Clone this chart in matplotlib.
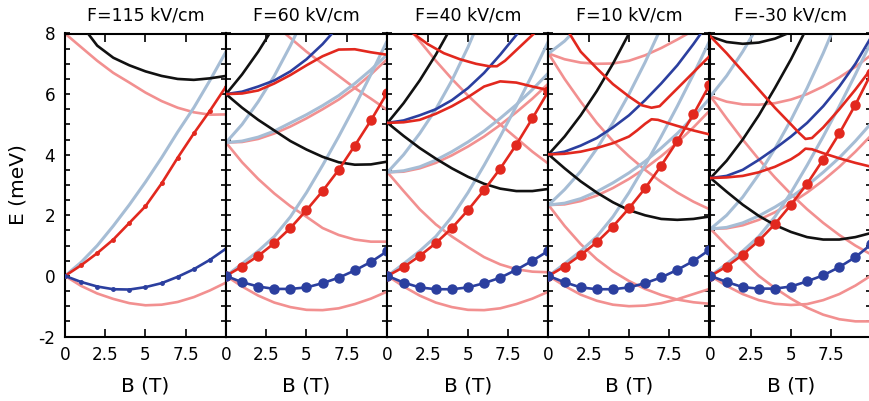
import matplotlib
matplotlib.use('Agg')
import matplotlib.pyplot as plt
from matplotlib.ticker import MultipleLocator, FixedLocator

plt.rcParams['font.family'] = ['DejaVu Sans']

titles = ['F=115 kV/cm', 'F=60 kV/cm', 'F=40 kV/cm', 'F=10 kV/cm', 'F=-30 kV/cm']
xtick_vals = [0, 2.5, 5, 7.5]
xtick_labels = ['0', '2.5', '5', '7.5']
ytick_vals = [-2, 0, 2, 4, 6, 8]
ytick_labels = ['-2', '0', '2', '4', '6', '8']

B = [0, 1, 2, 3, 4, 5, 6, 7, 8, 9, 10]
B1 = [1, 2, 3, 4, 5, 6, 7, 8, 9, 10]

# ---------- F = 115 kV/cm ----------
p1_lb0 = [0, 0.45, 1.0, 1.65, 2.35, 3.1, 3.9, 4.75, 5.55, 6.45, 7.4]
p1_red0 = [0, 0.35, 0.75, 1.2, 1.75, 2.3, 3.05, 3.9, 4.7, 5.45, 6.25]
p1_blue0 = [0, -0.2, -0.35, -0.44, -0.45, -0.37, -0.24, -0.03, 0.22, 0.53, 0.9]
p1_pk0 = [0, -0.33, -0.58, -0.76, -0.9, -0.97, -0.95, -0.86, -0.7, -0.48, -0.22]
p1_pk_top = [8.0, 7.55, 7.1, 6.7, 6.38, 6.05, 5.77, 5.55, 5.4, 5.32, 5.33]
p1_bk_top = [8.3, 7.6, 7.2, 6.95, 6.75, 6.6, 6.5, 6.47, 6.52, 6.6]

# ---------- F = 60 kV/cm ----------
p2_lb0 = [0, 0.4, 0.82, 1.3, 1.95, 2.75, 3.65, 4.6, 5.6, 6.65, 7.75]
p2_red0 = [0, 0.31, 0.66, 1.08, 1.58, 2.17, 2.8, 3.5, 4.3, 5.13, 6.03]
p2_blue0 = [0, -0.21, -0.35, -0.43, -0.43, -0.38, -0.24, -0.06, 0.18, 0.46, 0.81]
p2_pk0 = [0, -0.35, -0.65, -0.88, -1.03, -1.12, -1.13, -1.07, -0.93, -0.75, -0.52]
p2_pk_mid_dn = [4.4, 3.75, 3.2, 2.72, 2.3, 1.95, 1.58, 1.35, 1.2, 1.13, 1.13]
p2_lb_mid_up = [4.4, 5.0, 5.75, 6.6, 7.6, 8.7]
p2_lb_mid_gen = [4.4, 4.45, 4.58, 4.78, 5.05, 5.32, 5.62, 5.95, 6.35, 6.8, 7.3]
p2_pk_mid_gen = [4.4, 4.42, 4.52, 4.7, 4.93, 5.2, 5.5, 5.82, 6.2, 6.65, 7.15]
p2_pk_top = [8.3, 7.85, 7.4, 7.0, 6.6, 6.2, 5.85, 5.48]
p2_bk_up = [6.0, 6.65, 7.4, 8.25]
p2_bk_dn = [6.0, 5.55, 5.15, 4.8, 4.45, 4.17, 3.93, 3.75, 3.67, 3.68, 3.77]
p2_blue_up = [6.0, 6.08, 6.25, 6.45, 6.75, 7.15, 7.65, 8.25]
p2_red_up = [6.0, 6.02, 6.12, 6.35, 6.63, 6.95, 7.25, 7.47, 7.48, 7.38, 7.3]

# ---------- F = 40 kV/cm ----------
p3_lb0 = [0, 0.4, 0.82, 1.3, 1.95, 2.75, 3.65, 4.6, 5.6, 6.65, 7.75]
p3_red0 = [0, 0.29, 0.66, 1.08, 1.58, 2.17, 2.83, 3.54, 4.33, 5.2, 6.1]
p3_blue0 = [0, -0.22, -0.38, -0.44, -0.44, -0.38, -0.24, -0.06, 0.2, 0.5, 0.83]
p3_pk0 = [0, -0.35, -0.65, -0.88, -1.03, -1.12, -1.13, -1.07, -0.93, -0.75, -0.52]
p3_pk_mid_dn = [3.42, 2.8, 2.2, 1.7, 1.3, 0.95, 0.62, 0.38, 0.22, 0.14, 0.12]
p3_lb_mid_up = [3.42, 4.0, 4.7, 5.5, 6.45, 7.55, 8.8]
p3_lb_mid_gen = [3.42, 3.47, 3.6, 3.82, 4.1, 4.42, 4.78, 5.2, 5.65, 6.15, 6.7]
p3_pk_mid_gen = [3.42, 3.44, 3.55, 3.73, 3.98, 4.27, 4.6, 4.98, 5.4, 5.85, 6.35]
p3_pk_top = [8.4, 7.75, 7.1, 6.5, 5.95, 5.45, 5.0, 4.55, 4.1, 3.7]
p3_bk_up = [5.05, 5.7, 6.45, 7.3, 8.25]
p3_bk_dn = [5.05, 4.62, 4.22, 3.87, 3.55, 3.27, 3.04, 2.88, 2.8, 2.8, 2.87]
p3_blue_up = [5.05, 5.13, 5.3, 5.5, 5.8, 6.2, 6.7, 7.3, 7.95, 8.6]
p3_red_up = [5.05, 5.07, 5.15, 5.35, 5.6, 5.9, 6.25, 6.42, 6.38, 6.25, 6.13]
p3_red_hi_B = [1.6, 2.5, 3.5, 4.5, 5.5, 6.3, 6.8, 7.3, 8.0, 9.1, 10]
p3_red_hi = [8.0, 7.65, 7.35, 7.15, 7.0, 6.92, 6.92, 7.1, 7.45, 8.0, 8.5]

# ---------- F = 10 kV/cm ----------
p4_lb0 = [0, 0.4, 0.82, 1.3, 1.95, 2.75, 3.65, 4.6, 5.6, 6.65, 7.75]
p4_red0 = [0, 0.31, 0.69, 1.11, 1.63, 2.23, 2.89, 3.64, 4.45, 5.33, 6.3]
p4_blue0 = [0, -0.21, -0.38, -0.44, -0.44, -0.38, -0.24, -0.05, 0.2, 0.49, 0.86]
p4_pk0 = [0, -0.33, -0.62, -0.82, -0.95, -1.0, -0.98, -0.9, -0.77, -0.6, -0.43]
p4_pk_mid_dn = [2.34, 1.65, 1.05, 0.55, 0.15, -0.17, -0.43, -0.63, -0.78, -0.87, -0.92]
p4_lb_mid_up = [2.34, 2.85, 3.45, 4.2, 5.05, 6.0, 7.05, 8.2]
p4_lb_mid_gen = [2.34, 2.4, 2.55, 2.78, 3.07, 3.4, 3.78, 4.22, 4.7, 5.25, 5.85]
p4_pk_mid_gen = [2.34, 2.36, 2.47, 2.65, 2.9, 3.2, 3.55, 3.95, 4.4, 4.9, 5.45]
p4_lb_top_up = [7.34, 7.75, 8.3]
p4_pk_top_gen = [7.34, 7.15, 7.04, 7.0, 7.01, 7.1, 7.28, 7.52, 7.8, 8.1]
p4_pk_top_dn = [7.34, 6.5, 5.75, 5.05, 4.45, 3.95, 3.5, 3.1, 2.75, 2.45, 2.2]
p4_bk_up = [4.01, 4.6, 5.3, 6.1, 7.0, 8.0]
p4_bk_dn = [4.01, 3.55, 3.12, 2.75, 2.43, 2.17, 2.0, 1.88, 1.85, 1.88, 1.96]
p4_blue_up = [4.01, 4.1, 4.3, 4.55, 4.9, 5.3, 5.8, 6.35, 6.95, 7.65, 8.4]
p4_red_lo_B = [0, 1, 2, 3, 4, 5, 5.5, 6, 6.4, 6.8, 7.5, 8, 9, 10]
p4_red_lo = [4.01, 4.03, 4.1, 4.22, 4.38, 4.6, 4.8, 5.02, 5.17, 5.15, 5.03, 4.95, 4.8, 4.67]
p4_red_hi_B = [1.3, 2, 3, 4, 5, 5.8, 6.4, 6.9, 7.5, 8.5, 10]
p4_red_hi = [8.0, 7.4, 6.85, 6.33, 5.92, 5.63, 5.55, 5.6, 5.92, 6.45, 7.25]

# ---------- F = -30 kV/cm ----------
p5_lb0 = [0, 0.4, 0.82, 1.3, 1.95, 2.75, 3.65, 4.6, 5.6, 6.65, 7.75]
p5_red0 = [0, 0.31, 0.7, 1.16, 1.71, 2.35, 3.04, 3.84, 4.7, 5.65, 6.7]
p5_blue0 = [0, -0.2, -0.37, -0.42, -0.42, -0.35, -0.18, 0.02, 0.29, 0.62, 1.05]
p5_pk0 = [0, -0.33, -0.6, -0.8, -0.92, -0.96, -0.93, -0.8, -0.6, -0.32, 0.02]
p5_pk_low_dn = [1.55, 1.0, 0.5, 0.0, -0.4, -0.75, -1.05, -1.28, -1.43, -1.5, -1.5]
p5_lb_low_up = [1.55, 2.0, 2.6, 3.35, 4.2, 5.15, 6.2, 7.35, 8.6]
p5_lb_low_gen = [1.55, 1.6, 1.75, 1.98, 2.27, 2.6, 2.98, 3.42, 3.9, 4.45, 5.05]
p5_pk_low_gen = [1.55, 1.57, 1.67, 1.85, 2.1, 2.4, 2.75, 3.15, 3.6, 4.1, 4.65]
p5_lb_mid_up = [5.93, 6.6, 7.4, 8.3]
p5_pk_mid_gen = [5.93, 5.75, 5.66, 5.65, 5.7, 5.82, 6.0, 6.25, 6.55, 6.9, 7.3]
p5_pk_mid_dn = [5.93, 5.2, 4.5, 3.85, 3.25, 2.7, 2.2, 1.75, 1.35, 1.0, 0.7]
p5_bk_up = [3.23, 3.8, 4.5, 5.3, 6.2, 7.15, 8.2]
p5_bk_dn = [3.23, 2.78, 2.35, 1.98, 1.68, 1.45, 1.28, 1.2, 1.2, 1.28, 1.42]
p5_bk_top = [7.9, 7.72, 7.66, 7.7, 7.83, 8.05]
p5_blue_up = [3.23, 3.3, 3.5, 3.83, 4.2, 4.6, 5.05, 5.6, 6.25, 7.0, 7.9]
p5_red_lo_B = [0, 1, 2, 3, 4, 5, 5.5, 5.9, 6.3, 7, 8, 9, 10]
p5_red_lo = [3.23, 3.25, 3.3, 3.42, 3.6, 3.85, 4.02, 4.2, 4.18, 4.05, 3.88, 3.73, 3.6]
p5_red_hi_B = [0, 1, 2, 3, 4, 5, 5.5, 5.9, 6.3, 7, 8, 9, 10]
p5_red_hi = [7.9, 7.35, 6.75, 6.15, 5.55, 5.0, 4.72, 4.52, 4.55, 4.9, 5.5, 6.15, 6.85]

C_LB = '#a6bdd5'
C_PK = '#f29090'
C_RD = '#e2281e'
C_BL = '#2b3f9f'
C_BK = '#111111'


def seg(vals, start=0):
    return B[start:start + len(vals)], vals


panels = [
    dict(pk=[seg(p1_pk0), seg(p1_pk_top)],
         lb=[seg(p1_lb0)],
         bk=[(B1, p1_bk_top)],
         bl=[], rd=[],
         dots=[(p1_red0, C_RD), (p1_blue0, C_BL)], small=True),
    dict(pk=[seg(p2_pk0), seg(p2_pk_mid_dn), seg(p2_pk_mid_gen), seg(p2_pk_top, 3)],
         lb=[seg(p2_lb0), seg(p2_lb_mid_up), seg(p2_lb_mid_gen)],
         bk=[seg(p2_bk_up), seg(p2_bk_dn)],
         bl=[seg(p2_blue_up)], rd=[seg(p2_red_up)],
         dots=[(p2_red0, C_RD), (p2_blue0, C_BL)], small=False),
    dict(pk=[seg(p3_pk0), seg(p3_pk_mid_dn), seg(p3_pk_mid_gen), seg(p3_pk_top, 1)],
         lb=[seg(p3_lb0), seg(p3_lb_mid_up), seg(p3_lb_mid_gen)],
         bk=[seg(p3_bk_up), seg(p3_bk_dn)],
         bl=[seg(p3_blue_up)], rd=[seg(p3_red_up), (p3_red_hi_B, p3_red_hi)],
         dots=[(p3_red0, C_RD), (p3_blue0, C_BL)], small=False),
    dict(pk=[seg(p4_pk0), seg(p4_pk_mid_dn), seg(p4_pk_mid_gen), seg(p4_pk_top_gen), seg(p4_pk_top_dn)],
         lb=[seg(p4_lb0), seg(p4_lb_mid_up), seg(p4_lb_mid_gen), seg(p4_lb_top_up)],
         bk=[seg(p4_bk_up), seg(p4_bk_dn)],
         bl=[seg(p4_blue_up)], rd=[(p4_red_lo_B, p4_red_lo), (p4_red_hi_B, p4_red_hi)],
         dots=[(p4_red0, C_RD), (p4_blue0, C_BL)], small=False),
    dict(pk=[seg(p5_pk0), seg(p5_pk_low_dn), seg(p5_pk_low_gen), seg(p5_pk_mid_gen), seg(p5_pk_mid_dn)],
         lb=[seg(p5_lb0), seg(p5_lb_low_up), seg(p5_lb_low_gen), seg(p5_lb_mid_up)],
         bk=[seg(p5_bk_up), seg(p5_bk_dn), seg(p5_bk_top)],
         bl=[seg(p5_blue_up)], rd=[(p5_red_lo_B, p5_red_lo), (p5_red_hi_B, p5_red_hi)],
         dots=[(p5_red0, C_RD), (p5_blue0, C_BL)], small=False),
]

W, H = 870, 401
fig = plt.figure(figsize=(W / 100, H / 100), dpi=100)
lefts = [65, 226, 387.5, 548.5, 710.5]
pw = 161.0
top_px, bot_px = 33.5, 336.5

for i, (p, title) in enumerate(zip(panels, titles)):
    ax = fig.add_axes([lefts[i] / W, (H - bot_px) / H, pw / W, (bot_px - top_px) / H])
    ax.set_xlim(0, 10)
    ax.set_ylim(-2, 8)
    lw = 1.9
    for bx, ey in p['pk']:
        ax.plot(bx, ey, color=C_PK, lw=lw, zorder=2, solid_capstyle='butt')
    for bx, ey in p['lb']:
        ax.plot(bx, ey, color=C_LB, lw=2.2, zorder=2.5, solid_capstyle='butt')
    for bx, ey in p['bk']:
        ax.plot(bx, ey, color=C_BK, lw=lw, zorder=3)
    for bx, ey in p['bl']:
        ax.plot(bx, ey, color=C_BL, lw=lw, zorder=3)
    for bx, ey in p['rd']:
        ax.plot(bx, ey, color=C_RD, lw=lw, zorder=3)
    ms = 2.5 if p['small'] else 6.5
    for ey, c in p['dots']:
        ax.plot(B, ey, color=c, lw=lw, marker='o', ms=ms, zorder=4)

    ax.xaxis.set_major_locator(FixedLocator(xtick_vals))
    ax.set_xticklabels(xtick_labels)
    ax.yaxis.set_major_locator(FixedLocator(ytick_vals))
    ax.yaxis.set_minor_locator(MultipleLocator(0.5))
    ax.tick_params(axis='x', which='major', direction='in', length=6, width=1.2,
                   top=True, bottom=True, labelsize=12.2, pad=7)
    ax.tick_params(axis='y', which='both', direction='in', length=3.8, width=1.2,
                   left=True, right=True, labelsize=12.2, pad=7)
    if i == 0:
        ax.set_yticklabels(ytick_labels)
        ax.set_ylabel('E (meV)', fontsize=14.5, labelpad=8)
    else:
        ax.set_yticklabels([])
    for s in ax.spines.values():
        s.set_linewidth(1.5)
    ax.set_xlabel('B (T)', fontsize=14.5, labelpad=9)
    ax.set_title(title, fontsize=12.5, pad=9)

fig.savefig('out.png', dpi=100)
